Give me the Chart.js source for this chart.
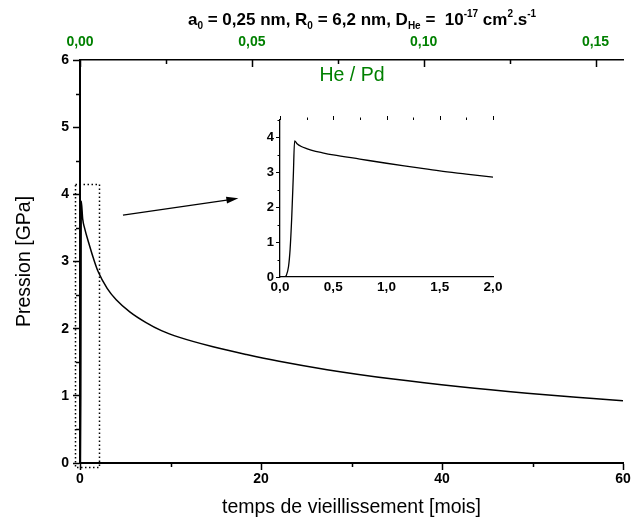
<!DOCTYPE html>
<html>
<head>
<meta charset="utf-8">
<script src="https://cdn.jsdelivr.net/npm/chart.js@4/dist/chart.umd.min.js"></script>
<style>
html, body { margin: 0; padding: 0; background: #fff; }
#wrap { position: relative; width: 632px; height: 526px; }
#main { position: absolute; left: 0; top: 0; }
#inset { position: absolute; left: 230px; top: 110px; }
</style>
</head>
<body>
<div id="wrap">
  <canvas id="main" width="632" height="526"></canvas>
  <canvas id="inset" width="280" height="190"></canvas>
</div>
<script>
// pressure vs ageing time (months)
const months = [0, 0.05, 0.09, 0.12, 0.137, 0.3, 0.5, 1.0, 1.5, 2.0, 3.0, 4.0, 5.5, 7.3, 9.0, 11, 14.7, 18.4, 22, 27.3, 34.6, 42, 49.4, 56.7, 60];
const pressure = [0, 0, 1.0, 2.8, 3.9, 3.63, 3.5, 3.26, 3.04, 2.85, 2.60, 2.43, 2.25, 2.09, 1.97, 1.87, 1.73, 1.615, 1.515, 1.39, 1.25, 1.135, 1.04, 0.96, 0.925];

// zoom on the first two months
const insetMonths = [0, 0.04, 0.06, 0.08, 0.095, 0.11, 0.125, 0.137, 0.16, 0.2, 0.25, 0.3, 0.4, 0.5, 0.75, 1.0, 1.25, 1.5, 1.75, 2.0];
const insetPressure = [0, 0, 0.05, 0.3, 0.8, 1.7, 2.9, 3.9, 3.82, 3.74, 3.68, 3.63, 3.56, 3.5, 3.38, 3.26, 3.15, 3.04, 2.95, 2.86];

const xTicks = [0, 20, 40, 60];
const xMinorTicks = [10, 30, 50];
const yTicks = [0, 1, 2, 3, 4, 5, 6];
const yMinorTicks = [0.5, 1.5, 2.5, 3.5, 4.5, 5.5];
const ratioTicks = [0, 0.05, 0.10, 0.15];
const ratioMinorTicks = [0.025, 0.075, 0.125];
const insetXTicks = [0, 0.5, 1.0, 1.5, 2.0];
const insetXMinorTicks = [0.25, 0.75, 1.25, 1.75];
const insetYTicks = [0, 1, 2, 3, 4];
const insetYMinorTicks = [0.5, 1.5, 2.5, 3.5, 4.5];

// dotted frame around the zoomed part and the arrow, in data units
const zoomBox = { x0: -0.6, x1: 2.0, y0: -0.06, y1: 4.15 };
const arrow = { x0: 4.75, y0: 3.69, x1: 17.5, y1: 3.94 };

const GREEN = '#008000';
const FONT = "'Liberation Sans', Arial, sans-serif";

function comma(v, d) { return v.toFixed(d).replace('.', ','); }

function fixSize(size) {
    return function (scale) {
        if (scale.isHorizontal()) scale.height = size; else scale.width = size;
        scale.paddingLeft = scale.paddingRight = scale.paddingTop = scale.paddingBottom = 0;
    };
}
function useTicks(list) {
    return function (scale) { scale.ticks = list.map(v => ({ value: v })); };
}

function tickLines(ctx, scale, values, len, width, dir) {
    ctx.save();
    ctx.strokeStyle = '#000';
    ctx.lineWidth = width;
    ctx.beginPath();
    values.forEach(v => {
        const p = Math.round(scale.getPixelForValue(v)) + 0.5;
        if (scale.isHorizontal()) {
            const y0 = dir === 'down' ? scale.chart.chartArea.bottom : scale.chart.chartArea.top;
            const y1 = dir === 'down' ? y0 + len : (dir === 'in-top' ? y0 + len : y0 - len);
            ctx.moveTo(p, y0); ctx.lineTo(p, y1);
        } else {
            const x0 = scale.chart.chartArea.left;
            ctx.moveTo(x0, p); ctx.lineTo(x0 - len, p);
        }
    });
    ctx.stroke();
    ctx.restore();
}

function drawTitle(ctx) {
    const parts = [
        ['a', 0], ['0', 1], [' = 0,25 nm, R', 0], ['0', 1], [' = 6,2 nm, D', 0], ['He', 1],
        [' =  10', 0], ['-17', 2], [' cm', 0], ['2', 2], ['.s', 0], ['-1', 2]
    ];
    const big = 'bold 17px ' + FONT, small = 'bold 10px ' + FONT;
    ctx.save();
    ctx.fillStyle = '#000';
    ctx.textBaseline = 'alphabetic';
    let total = 0;
    parts.forEach(p => { ctx.font = p[1] ? small : big; total += ctx.measureText(p[0]).width; });
    let x = 362 - total / 2;
    const base = 25;
    parts.forEach(p => {
        ctx.font = p[1] ? small : big;
        const dy = p[1] === 1 ? 4 : (p[1] === 2 ? -8 : 0);
        ctx.fillText(p[0], x, base + dy);
        x += ctx.measureText(p[0]).width;
    });
    ctx.restore();
}

const mainDecor = {
    id: 'mainDecor',
    afterDraw(chart) {
        const ctx = chart.ctx;
        const sx = chart.scales.x, sy = chart.scales.y, s2 = chart.scales.x2;
        tickLines(ctx, sx, xMinorTicks, 4, 1.5, 'down');
        tickLines(ctx, sy, yMinorTicks, 4, 1.5, 'left');
        tickLines(ctx, s2, ratioTicks, 7, 1.5, 'in-top');
        tickLines(ctx, s2, ratioMinorTicks, 4, 1.5, 'in-top');

        // dotted frame
        const l = sx.getPixelForValue(zoomBox.x0), r = sx.getPixelForValue(zoomBox.x1);
        const t = sy.getPixelForValue(zoomBox.y1), b = sy.getPixelForValue(zoomBox.y0);
        ctx.save();
        ctx.strokeStyle = '#000';
        ctx.lineWidth = 1.5;
        ctx.setLineDash([1.5, 2.5]);
        ctx.strokeRect(Math.round(l) + 0.5, Math.round(t) + 0.5, Math.round(r - l), Math.round(b - t));
        ctx.restore();

        // arrow
        const ax0 = sx.getPixelForValue(arrow.x0), ay0 = sy.getPixelForValue(arrow.y0);
        const ax1 = sx.getPixelForValue(arrow.x1), ay1 = sy.getPixelForValue(arrow.y1);
        const ang = Math.atan2(ay1 - ay0, ax1 - ax0);
        ctx.save();
        ctx.strokeStyle = '#000';
        ctx.fillStyle = '#000';
        ctx.lineWidth = 1.3;
        ctx.beginPath();
        ctx.moveTo(ax0, ay0);
        ctx.lineTo(ax1 - 10 * Math.cos(ang), ay1 - 10 * Math.sin(ang));
        ctx.stroke();
        ctx.beginPath();
        ctx.moveTo(ax1, ay1);
        ctx.lineTo(ax1 - 12 * Math.cos(ang) + 3.5 * Math.sin(ang), ay1 - 12 * Math.sin(ang) - 3.5 * Math.cos(ang));
        ctx.lineTo(ax1 - 12 * Math.cos(ang) - 3.5 * Math.sin(ang), ay1 - 12 * Math.sin(ang) + 3.5 * Math.cos(ang));
        ctx.closePath();
        ctx.fill();
        ctx.restore();

        drawTitle(ctx);

        ctx.save();
        ctx.fillStyle = GREEN;
        ctx.font = '19.5px ' + FONT;
        ctx.textAlign = 'center';
        ctx.textBaseline = 'middle';
        ctx.fillText('He / Pd', 352, 76);
        ctx.restore();
    }
};

new Chart(document.getElementById('main'), {
    type: 'line',
    data: {
        datasets: [{
            data: months.map((m, i) => ({ x: m, y: pressure[i] })),
            borderColor: '#000',
            borderWidth: 1.5,
            pointRadius: 0,
            cubicInterpolationMode: 'monotone',
            xAxisID: 'x',
            yAxisID: 'y'
        }]
    },
    options: {
        responsive: false,
        animation: false,
        devicePixelRatio: 1,
        layout: { padding: { left: 0, right: 9, top: 0, bottom: 0 } },
        plugins: { legend: { display: false }, tooltip: { enabled: false } },
        scales: {
            x: {
                type: 'linear', position: 'bottom', min: 0, max: 60,
                afterBuildTicks: useTicks(xTicks),
                afterFit: fixSize(63),
                ticks: { color: '#000', font: { family: FONT, size: 14, weight: 'bold' }, padding: 1, maxRotation: 0, autoSkip: false },
                grid: { drawOnChartArea: false, drawTicks: true, tickLength: 7, tickColor: '#000', tickWidth: 1.5 },
                border: { display: true, color: '#000', width: 2 },
                title: { display: true, text: 'temps de vieillissement [mois]', color: '#000', font: { family: FONT, size: 19.5 }, padding: { top: 0, bottom: 7 } }
            },
            x2: {
                type: 'linear', position: 'top', min: 0, max: 0.158,
                afterBuildTicks: useTicks(ratioTicks),
                afterFit: fixSize(60),
                ticks: { color: GREEN, font: { family: FONT, size: 14, weight: 'bold' }, padding: 9, maxRotation: 0, autoSkip: false, callback: v => comma(v, 2) },
                grid: { drawOnChartArea: false, drawTicks: false },
                border: { display: true, color: '#000', width: 1.5 }
            },
            y: {
                type: 'linear', position: 'left', min: 0, max: 6,
                afterBuildTicks: useTicks(yTicks),
                afterFit: fixSize(80),
                ticks: { color: '#000', font: { family: FONT, size: 14, weight: 'bold' }, padding: 4, autoSkip: false },
                grid: { drawOnChartArea: false, drawTicks: true, tickLength: 7, tickColor: '#000', tickWidth: 1.5 },
                border: { display: true, color: '#000', width: 2 },
                title: { display: true, text: 'Pression [GPa]', color: '#000', font: { family: FONT, size: 19.5 }, padding: { top: 13, bottom: 0 } }
            }
        }
    },
    plugins: [mainDecor]
});

const insetDecor = {
    id: 'insetDecor',
    afterDraw(chart) {
        const ctx = chart.ctx;
        tickLines(ctx, chart.scales.x, insetXTicks, 4, 1, 'up');
        tickLines(ctx, chart.scales.x, insetXMinorTicks, 2.5, 1, 'up');
        tickLines(ctx, chart.scales.y, insetYMinorTicks, 2.5, 1, 'left');
    }
};

new Chart(document.getElementById('inset'), {
    type: 'line',
    data: {
        datasets: [{
            data: insetMonths.map((m, i) => ({ x: m, y: insetPressure[i] })),
            borderColor: '#000',
            borderWidth: 1.3,
            pointRadius: 0,
            cubicInterpolationMode: 'monotone'
        }]
    },
    options: {
        responsive: false,
        animation: false,
        devicePixelRatio: 1,
        layout: { padding: { left: 0, right: 17, top: 10, bottom: 0 } },
        plugins: { legend: { display: false }, tooltip: { enabled: false } },
        scales: {
            x: {
                type: 'linear', min: 0, max: 2,
                afterBuildTicks: useTicks(insetXTicks),
                afterFit: fixSize(23),
                ticks: { color: '#000', font: { family: FONT, size: 13.5, weight: 'bold' }, padding: 2, maxRotation: 0, autoSkip: false, callback: v => comma(v, 1) },
                grid: { drawOnChartArea: false, drawTicks: false },
                border: { display: true, color: '#000', width: 1.3 }
            },
            y: {
                type: 'linear', min: 0, max: 4.5,
                afterBuildTicks: useTicks(insetYTicks),
                afterFit: fixSize(50),
                ticks: { color: '#000', font: { family: FONT, size: 13, weight: 'bold' }, padding: 2, autoSkip: false },
                grid: { drawOnChartArea: false, drawTicks: true, tickLength: 4, tickColor: '#000', tickWidth: 1 },
                border: { display: true, color: '#000', width: 1.3 }
            }
        }
    },
    plugins: [insetDecor]
});
</script>
</body>
</html>
